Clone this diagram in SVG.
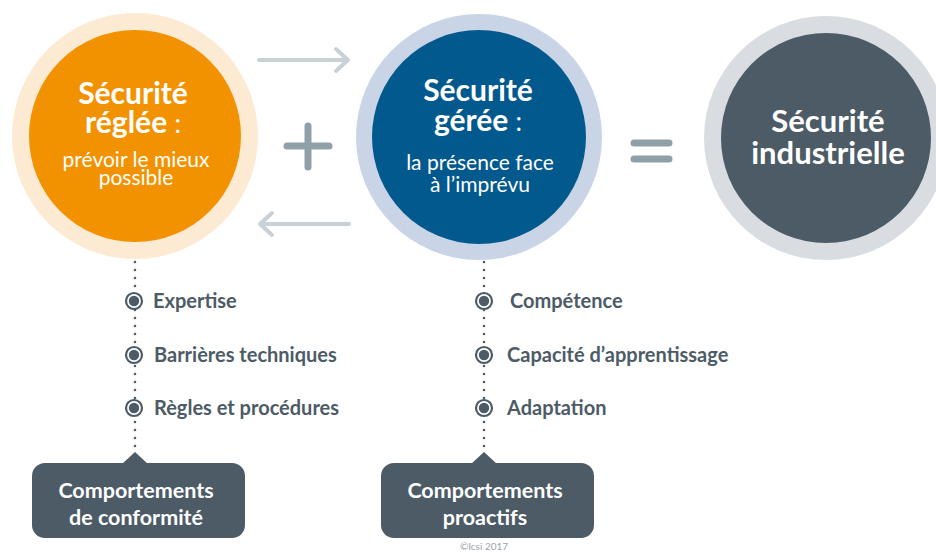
<svg xmlns="http://www.w3.org/2000/svg" width="936" height="552" viewBox="0 0 936 552">
<style>
text{font-family:Lato,"Open Sans","DejaVu Sans",sans-serif}
.t{fill:#fff;font-weight:700;text-anchor:middle}
.s{font-weight:400;font-size:21px}
.lbl{fill:#4c5b66;font-weight:700;font-size:20px}
.dots{stroke:#4c5b66;stroke-width:2.6;stroke-linecap:round;stroke-dasharray:0 8;fill:none}
.arr{stroke:#c9d0d6;stroke-width:4;fill:none;stroke-linecap:round;stroke-linejoin:round}
.op{stroke:#8fa0a8;stroke-width:7;stroke-linecap:round}
.box{fill:#4c5b66}
.bt{fill:#fff;font-weight:700;font-size:21.5px;text-anchor:middle}
</style>
<defs>
<g id="bul"><circle r="8" fill="#fff" stroke="#4c5b66" stroke-width="2.2"/><circle r="5.2" fill="#4c5b66"/></g>
</defs>
<rect width="936" height="552" fill="#fff"/>

<g id="connectors">
<path class="arr" d="M259 60 H348 M336 49 L348 60 L336 71"/>
<path class="arr" d="M349 224 H260 M272 213 L260 224 L272 235"/>
<line class="dots" x1="135" y1="262" x2="135" y2="456"/>
<line class="dots" x1="484" y1="262" x2="484" y2="456"/>
</g>

<g id="node-reglee">
<circle cx="135" cy="136" r="123" fill="#fdead3"/>
<circle cx="135" cy="136" r="106" fill="#f39200"/>
<text class="t" font-size="30"><tspan x="133" y="104">Sécurité</tspan><tspan x="133" y="133">réglée <tspan font-weight="400" font-size="26">:</tspan></tspan><tspan class="s" x="136" y="167">prévoir le mieux</tspan><tspan class="s" x="136" y="185">possible</tspan></text>
</g>

<g id="op-plus">
<line class="op" x1="287" y1="146" x2="329" y2="146"/>
<line class="op" x1="308" y1="126" x2="308" y2="167"/>
</g>

<g id="node-geree">
<circle cx="479" cy="137" r="123" fill="#c9d4e7"/>
<circle cx="479" cy="137" r="107" fill="#02598e"/>
<text class="t" font-size="30"><tspan x="478" y="101">Sécurité</tspan><tspan x="478" y="131">gérée <tspan font-weight="400" font-size="26">:</tspan></tspan><tspan class="s" x="480" y="170">la présence face</tspan><tspan class="s" x="480" y="192">à l’imprévu</tspan></text>
</g>

<g id="op-equals">
<line class="op" x1="634" y1="143" x2="669" y2="143"/>
<line class="op" x1="634" y1="159" x2="669" y2="159"/>
</g>

<g id="node-industrielle">
<circle cx="826" cy="138" r="122" fill="#d9dde2"/>
<circle cx="826" cy="138" r="105" fill="#4c5b66"/>
<text class="t" font-size="31"><tspan x="828" y="132">Sécurité</tspan><tspan x="828" y="164">industrielle</tspan></text>
</g>

<g id="list-reglee">
<use href="#bul" x="134" y="301"/>
<use href="#bul" x="134" y="355"/>
<use href="#bul" x="134" y="408"/>
<text class="lbl" x="153" y="308">Expertise</text>
<text class="lbl" x="154" y="362">Barrières techniques</text>
<text class="lbl" x="154" y="415">Règles et procédures</text>
</g>

<g id="list-geree">
<use href="#bul" x="484" y="301"/>
<use href="#bul" x="484" y="355"/>
<use href="#bul" x="484" y="408"/>
<text class="lbl" x="510" y="308">Compétence</text>
<text class="lbl" x="507" y="362">Capacité d’apprentissage</text>
<text class="lbl" x="507" y="415">Adaptation</text>
</g>

<g id="box-conformite">
<rect class="box" x="32" y="463" width="213" height="75" rx="13"/>
<path class="box" d="M122 464 L135 452 L148 464 Z"/>
<text class="bt"><tspan x="136" y="498">Comportements</tspan><tspan x="136" y="525">de conformité</tspan></text>
</g>

<g id="box-proactifs">
<rect class="box" x="381" y="463" width="213" height="75" rx="13"/>
<path class="box" d="M471 464 L484 452 L497 464 Z"/>
<text class="bt"><tspan x="485" y="498">Comportements</tspan><tspan x="485" y="525">proactifs</tspan></text>
</g>

<text x="484" y="550" font-size="10" fill="#9aa3aa" text-anchor="middle">©Icsi 2017</text>
</svg>
